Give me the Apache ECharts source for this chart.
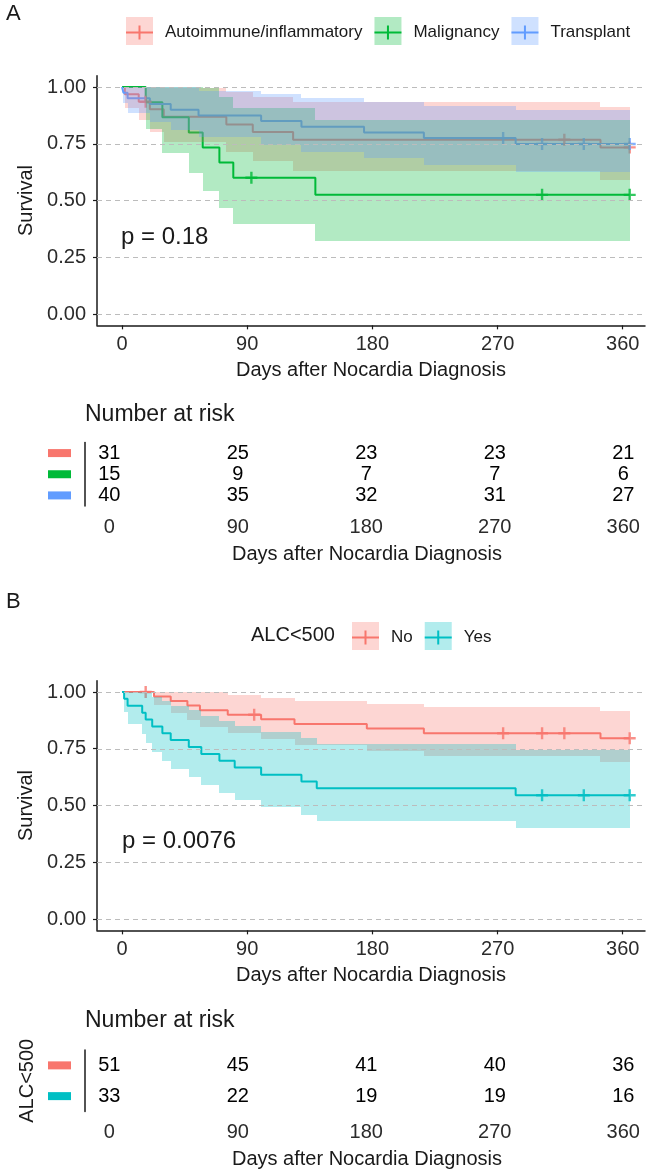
<!DOCTYPE html>
<html>
<head>
<meta charset="utf-8">
<script src="https://cdn.jsdelivr.net/npm/echarts@6/dist/echarts.min.js"></script>
<style>
html, body { margin: 0; padding: 0; background: #fff; }
#chart { width: 650px; height: 1171px; }
</style>
</head>
<body>
<div id="chart"></div>
<script>
// ---- panel A: underlying condition ----
var groupsA = ['Autoimmune/inflammatory', 'Malignancy', 'Transplant'];

var autoTime   = [0, 2, 12, 20, 30, 75, 94, 123, 344, 365];
var autoSurv   = [1, 0.968, 0.935, 0.902, 0.869, 0.835, 0.802, 0.768, 0.734, 0.734];
var autoLower  = [1, 0.908, 0.853, 0.803, 0.757, 0.713, 0.672, 0.632, 0.591, 0.591];
var autoUpper  = [1, 1, 1, 1, 0.997, 0.978, 0.957, 0.935, 0.910, 0.910];
var autoCensor = [[17, 0.935], [318, 0.768], [365, 0.734]];

var maligTime   = [0, 17, 29, 48, 58, 70, 80, 139, 365];
var maligSurv   = [1, 0.933, 0.867, 0.8, 0.733, 0.667, 0.6, 0.525, 0.525];
var maligLower  = [1, 0.815, 0.711, 0.621, 0.540, 0.466, 0.397, 0.322, 0.322];
var maligUpper  = [1, 1, 1, 1, 0.995, 0.954, 0.907, 0.856, 0.856];
var maligCensor = [[93, 0.6], [302, 0.525], [365, 0.525]];

var transTime   = [0, 1, 4, 20, 35, 55, 100, 129, 174, 217, 283, 365];
var transSurv   = [1, 0.975, 0.95, 0.925, 0.9, 0.875, 0.85, 0.825, 0.8, 0.775, 0.749, 0.749];
var transLower  = [1, 0.928, 0.885, 0.847, 0.812, 0.778, 0.746, 0.715, 0.686, 0.656, 0.626, 0.626];
var transUpper  = [1, 1, 1, 1, 0.998, 0.984, 0.968, 0.952, 0.934, 0.916, 0.897, 0.897];
var transCensor = [[274, 0.775], [302, 0.749], [332, 0.749], [365, 0.749]];

// ---- panel B: ALC<500 ----
var groupsB = ['No', 'Yes'];

var noTime   = [0, 23, 35, 47, 56, 76, 100, 124, 176, 217, 344, 365];
var noSurv   = [1, 0.98, 0.96, 0.94, 0.92, 0.90, 0.88, 0.859, 0.839, 0.818, 0.796, 0.796];
var noLower  = [1, 0.942, 0.907, 0.876, 0.848, 0.821, 0.794, 0.768, 0.742, 0.717, 0.691, 0.691];
var noUpper  = [1, 1, 1, 1, 0.998, 0.987, 0.975, 0.962, 0.948, 0.933, 0.918, 0.918];
var noCensor = [[17, 1], [95, 0.9], [274, 0.818], [302, 0.818], [318, 0.818], [365, 0.796]];

var yesTime   = [0, 1.5, 4, 14.5, 17, 21.7, 29, 35, 48, 57, 70, 81, 100, 129, 140, 283, 365];
var yesSurv   = [1, 0.970, 0.939, 0.909, 0.879, 0.848, 0.818, 0.788, 0.758, 0.727, 0.697, 0.667, 0.636, 0.606, 0.576, 0.545, 0.545];
var yesLower  = [1, 0.913, 0.861, 0.816, 0.774, 0.735, 0.697, 0.660, 0.625, 0.590, 0.557, 0.524, 0.492, 0.460, 0.430, 0.400, 0.400];
var yesUpper  = [1, 1, 1, 1, 0.997, 0.980, 0.961, 0.940, 0.919, 0.896, 0.873, 0.849, 0.824, 0.798, 0.772, 0.745, 0.745];
var yesCensor = [[302, 0.545], [332, 0.545], [365, 0.545]];

// ---- number at risk ----
var riskTimes = [0, 90, 180, 270, 360];
var riskAuto  = [31, 25, 23, 23, 21];
var riskMalig = [15, 9, 7, 7, 6];
var riskTrans = [40, 35, 32, 31, 27];
var riskNo    = [51, 45, 41, 40, 36];
var riskYes   = [33, 22, 19, 19, 16];

var xTicks = [0, 90, 180, 270, 360];
var yTicks = [0, 0.25, 0.5, 0.75, 1];
var pA = 'p = 0.18';
var pB = 'p = 0.0076';

var colorsA = ['#F8766D', '#00BA38', '#619CFF'];
var fillsA  = ['rgba(248,118,109,0.3)', 'rgba(0,186,56,0.3)', 'rgba(97,156,255,0.3)'];
var colorsB = ['#F8766D', '#00BFC4'];
var fillsB  = ['rgba(248,118,109,0.3)', 'rgba(0,191,196,0.3)'];

var FONT = '"Liberation Sans", Arial, sans-serif';
var INK = '#1a1a1a';
var crossPath = 'path://M4,0H6V4H10V6H6V10H4V6H0V4H4Z';
var keyPath = 'path://M0,6H27V8H0Z M12.5,0H14.5V14H12.5Z';

var chart = echarts.init(document.getElementById('chart'));

function kmSeries(name, color, fill, time, surv, lower, upper, censor, gi) {
  var line = time.map(function (t, i) { return [t, surv[i]]; });
  var steps = [];
  for (var i = 0; i < time.length - 1; i++) {
    steps.push([time[i], time[i + 1], lower[i], upper[i]]);
  }
  return [
    { name: name, type: 'line', xAxisIndex: gi, yAxisIndex: gi, step: 'end', data: line,
      symbol: 'none', lineStyle: { color: color, width: 2 }, itemStyle: { color: color }, z: 3, silent: true },
    { type: 'scatter', xAxisIndex: gi, yAxisIndex: gi, data: censor, symbol: crossPath,
      symbolSize: 12, itemStyle: { color: color }, z: 3, silent: true },
    // confidence band, drawn over the curve like the ggplot ribbon
    { type: 'custom', xAxisIndex: gi, yAxisIndex: gi, data: steps, z: 4, silent: true,
      encode: { x: [0, 1], y: [2, 3] },
      renderItem: function (params, api) {
        var p0 = api.coord([api.value(0), api.value(3)]);
        var p1 = api.coord([api.value(1), api.value(2)]);
        var x0 = Math.round(p0[0]), x1 = Math.round(p1[0]);
        var y0 = Math.round(p0[1]), y1 = Math.round(p1[1]);
        return { type: 'rect', shape: { x: x0, y: y0, width: x1 - x0, height: y1 - y0 },
          style: { fill: fill } };
      } }
  ];
}

function gridLines(gi) {
  return { type: 'line', xAxisIndex: gi, yAxisIndex: gi, data: [], z: 1, silent: true,
    markLine: { silent: true, symbol: ['none', 'none'], label: { show: false }, animation: false,
      lineStyle: { color: '#bcbcbc', type: [5, 4], width: 1 },
      data: yTicks.map(function (v) { return { yAxis: v }; }) } };
}

function riskSeries(groups, rows, gi) {
  var data = [];
  groups.forEach(function (g, r) {
    riskTimes.forEach(function (t, i) { data.push([t, g, rows[r][i]]); });
  });
  return { type: 'custom', xAxisIndex: gi, yAxisIndex: gi, data: data, silent: true,
    encode: { x: 0, y: 1 },
    renderItem: function (params, api) {
      var pt = api.coord([api.value(0), api.value(1)]);
      return { type: 'text', x: pt[0], y: pt[1],
        style: { text: String(api.value(2)), fill: '#000', fontSize: 20, fontFamily: FONT,
          align: 'center', verticalAlign: 'middle' } };
    } };
}

function plotX(gi) {
  return { gridIndex: gi, type: 'value', min: -18, max: 376,
    axisLine: { onZero: false, lineStyle: { color: INK, width: 1.5 } },
    axisTick: { customValues: xTicks, length: 4, lineStyle: { color: INK, width: 1.2 } },
    axisLabel: { customValues: xTicks, fontSize: 20, color: '#2b2b2b', margin: 9, fontFamily: FONT },
    splitLine: { show: false },
    name: 'Days after Nocardia Diagnosis', nameLocation: 'middle', nameGap: 35,
    nameTextStyle: { fontSize: 20, color: INK, fontFamily: FONT } };
}

function plotY(gi) {
  return { gridIndex: gi, type: 'value', min: -0.05, max: 1.05,
    axisLine: { show: true, onZero: false, lineStyle: { color: INK, width: 1.5 } },
    axisTick: { show: true, customValues: yTicks, length: 4, lineStyle: { color: INK, width: 1.2 } },
    axisLabel: { customValues: yTicks, fontSize: 20, color: '#2b2b2b', margin: 11, fontFamily: FONT,
      formatter: function (v) { return v.toFixed(2); } },
    splitLine: { show: false },
    name: 'Survival', nameLocation: 'middle', nameGap: 52, nameRotate: 90,
    nameTextStyle: { fontSize: 20, color: INK, fontFamily: FONT } };
}

function tableX(gi) {
  return { gridIndex: gi, type: 'value', min: -17, max: 378,
    axisLine: { onZero: false, lineStyle: { color: INK, width: 1.5 } },
    axisTick: { customValues: xTicks, length: 4, lineStyle: { color: INK, width: 1.2 } },
    axisLabel: { customValues: xTicks, fontSize: 20, color: '#2b2b2b', margin: 11, fontFamily: FONT },
    splitLine: { show: false },
    name: 'Days after Nocardia Diagnosis', nameLocation: 'middle', nameGap: 38,
    nameTextStyle: { fontSize: 20, color: INK, fontFamily: FONT } };
}

function tableY(gi, groups, colors, title) {
  var rich = {};
  colors.forEach(function (c, i) {
    rich['c' + i] = { backgroundColor: c, width: 23, height: 8, lineHeight: 8, fontSize: 8 };
  });
  var ax = { gridIndex: gi, type: 'category', data: groups, inverse: true,
    axisLine: { show: true, onZero: false, lineStyle: { color: INK, width: 1.5 } },
    axisTick: { show: false },
    axisLabel: { margin: 14, rich: rich, formatter: function (v, i) { return '{c' + i + '|\u00a0}'; } },
    splitLine: { show: false } };
  if (title) {
    ax.name = title;
    ax.nameLocation = 'middle';
    ax.nameRotate = 90;
    ax.nameGap = 41;
    ax.nameTextStyle = { fontSize: 20, color: INK, fontFamily: FONT };
  }
  return ax;
}

function legendPair(groups, colors, fills, left, top) {
  var base = { orient: 'horizontal', left: left, itemWidth: 27, itemGap: 12, selectedMode: false, padding: 0 };
  var back = Object.assign({}, base, {
    top: top, itemHeight: 28, z: 2,
    data: groups.map(function (g, i) { return { name: g, icon: 'rect', itemStyle: { color: fills[i] } }; }),
    textStyle: { fontSize: 17, fontFamily: FONT, color: 'rgba(0,0,0,0)', padding: [0, 0, 0, 7] }
  });
  var front = Object.assign({}, base, {
    top: top + 7, itemHeight: 14, z: 3,
    data: groups.map(function (g, i) { return { name: g, icon: keyPath, itemStyle: { color: colors[i] } }; }),
    textStyle: { fontSize: 17, fontFamily: FONT, color: INK, padding: [0, 0, 0, 7] }
  });
  return [back, front];
}

function label(text, left, top, size) {
  return { text: text, left: left, top: top, padding: 0,
    textStyle: { fontSize: size, fontWeight: 'normal', color: INK, fontFamily: FONT } };
}

var series = [gridLines(0), gridLines(2)];
series = series.concat(
  kmSeries(groupsA[0], colorsA[0], fillsA[0], autoTime, autoSurv, autoLower, autoUpper, autoCensor, 0),
  kmSeries(groupsA[1], colorsA[1], fillsA[1], maligTime, maligSurv, maligLower, maligUpper, maligCensor, 0),
  kmSeries(groupsA[2], colorsA[2], fillsA[2], transTime, transSurv, transLower, transUpper, transCensor, 0),
  kmSeries(groupsB[0], colorsB[0], fillsB[0], noTime, noSurv, noLower, noUpper, noCensor, 2),
  kmSeries(groupsB[1], colorsB[1], fillsB[1], yesTime, yesSurv, yesLower, yesUpper, yesCensor, 2)
);
series.push(riskSeries(groupsA, [riskAuto, riskMalig, riskTrans], 1));
series.push(riskSeries(groupsB, [riskNo, riskYes], 3));

var option = {
  animation: false,
  backgroundColor: '#fff',
  title: [
    label('A', 6, 3, 22),
    label('B', 6, 591, 22),
    label(pA, 121, 225, 24),
    label(pB, 122, 829, 24),
    label('Number at risk', 85, 403, 23),
    label('Number at risk', 85, 1009, 23),
    label('ALC<500', 251, 625, 20)
  ],
  legend: legendPair(groupsA, colorsA, fillsA, 126, 17).concat(legendPair(groupsB, colorsB, fillsB, 352, 622)),
  grid: [
    { left: 97, top: 75.65, width: 548, height: 249.7 },
    { left: 85, top: 442.5, width: 564, height: 63.5 },
    { left: 97, top: 680.65, width: 548, height: 249.7 },
    { left: 85, top: 1050, width: 564, height: 61.5 }
  ],
  xAxis: [plotX(0), tableX(1), plotX(2), tableX(3)],
  yAxis: [plotY(0), tableY(1, groupsA, colorsA, null), plotY(2), tableY(3, groupsB, colorsB, 'ALC<500')],
  series: series
};

chart.setOption(option);
</script>
</body>
</html>
